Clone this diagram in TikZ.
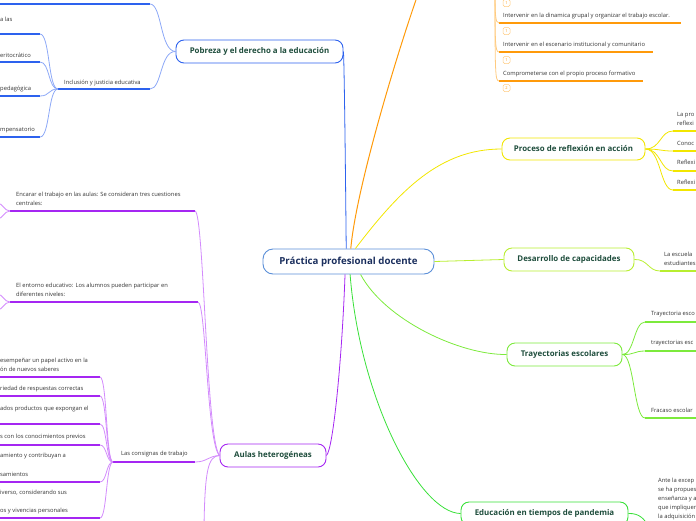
\documentclass[tikz,border=0pt]{standalone}
\usepackage{fontspec}
\setmainfont{Open Sans}
\usetikzlibrary{positioning}
\definecolor{ttl}{HTML}{1E4D3C}
\definecolor{ctr}{HTML}{1B2F5E}
\definecolor{ctrb}{HTML}{5B8FD8}
\definecolor{bl}{HTML}{2D62EE}
\definecolor{bll}{HTML}{8CA8F7}
\definecolor{pu}{HTML}{A526F2}
\definecolor{pul}{HTML}{D38BFC}
\definecolor{ye}{HTML}{F2E600}
\definecolor{li}{HTML}{B8EE30}
\definecolor{gr}{HTML}{7CEA3C}
\definecolor{gd}{HTML}{38E038}
\definecolor{or}{HTML}{FF9A0A}
\definecolor{orl}{HTML}{FFCB80}
\definecolor{txt}{HTML}{333333}

\begin{document}
\begin{tikzpicture}[x=1pt,y=-1pt,
    topic/.style={draw, line width=0.9pt, rounded corners=8pt, fill=white, text=ttl,
      font=\bfseries\fontsize{7.9}{9}\selectfont, minimum height=23pt, inner sep=0pt},
    item/.style={anchor=west, inner sep=0pt, text=txt, align=left,
      font=\fontsize{5.8}{9}\selectfont},
    rline/.style={line width=1.4pt},
    conn/.style={line width=0.8pt},
    badge/.style={draw=orl, line width=0.5pt, rounded corners=1.5pt, minimum size=7pt,
      inner sep=0pt, text=or, font=\fontsize{4}{4}\selectfont}]
    \useasboundingbox (0,0) rectangle (696,520);
    \clip (0,0) rectangle (696,520);

    % central and main topics
    \node[draw=ctrb, line width=0.9pt, rounded corners=10pt, fill=white, text=ctr,
      font=\bfseries\fontsize{9.7}{11}\selectfont, minimum width=171pt, minimum height=25pt,
      inner sep=0pt] (central) at (348.5,261.5) {Práctica profesional docente};
    \node[topic, draw=bl, minimum width=167pt] (pob) at (259.5,51.5) {Pobreza y el derecho a la educación};
    \node[topic, draw=pu, minimum width=106pt] (aulas) at (273,455.5) {Aulas heterogéneas};
    \node[topic, draw=ye, minimum width=143pt, minimum height=22pt] (proc) at (573.5,149) {Proceso de reflexión en acción};
    \node[topic, draw=li, minimum width=130pt] (des) at (569,259.5) {Desarrollo de capacidades};
    \node[topic, draw=gr, minimum width=115pt] (tray) at (564.5,354.5) {Trayectorias escolares};
    \node[topic, draw=gd, minimum width=167pt] (edu) at (544.5,513.5) {Educación en tiempos de pandemia};

    \coordinate (otop) at (417,-3);
    \draw[conn, bl] (central.100) .. controls (345,120) and (344,60) .. (pob.east);
    \draw[conn, or, line width=1pt] (central.80) .. controls (356,190) and (395,60) .. (otop);
    \draw[conn, ye] (central.62) .. controls (400,190) and (440,149) .. (proc.west);
    \draw[conn, li] (central.east) -- (des.west);
    \draw[conn, gr] (central.-47) .. controls (385,320) and (460,355) .. (tray.west);
    \draw[conn, gd] (central.-83) .. controls (360,400) and (420,513) .. (edu.west);
    \draw[conn, pu] (central.-105) .. controls (342,360) and (333,450) .. (aulas.east);

    % pobreza
    \coordinate (p1) at (150,4);
    \draw[rline, bl] (p1) -- ++(-160,0);
    \draw[conn, bll] (pob.west) .. controls (160,51) and (162,4) .. (p1);
    \node[item] (incl) at (64,83) {Inclusión y justicia educativa};
    \coordinate (i0) at (58,89);
    \coordinate (i1) at (150,89);
    \draw[rline, bl] (i0) -- (i1);
    \draw[conn, bll] (pob.west) .. controls (160,51) and (162,89) .. (i1);
    \foreach \y in {34,62,96,137} {
      \coordinate (c\y) at (40,\y);
      \draw[rline, bl] (c\y) -- ++(-50,0);
      \draw[conn, bll] (i0) .. controls (48,89) and (50,\y) .. (c\y);
    }
    \node[item] (ilas) at (0,19) {a las};
    \node[item] (imer) at (0,55) {eritocrático};
    \node[item] (iped) at (0,89) {pedagógica};
    \node[item] (icom) at (0,130) {mpensatorio};

    % aulas
    \node[item] (enc) at (16,199) {Encarar el trabajo en las aulas: Se consideran tres cuestiones\\centrales:};
    \coordinate (e0) at (10,211);
    \coordinate (e1) at (195,211);
    \draw[rline, pu] (e0) -- (e1);
    \draw[conn, pul] (aulas.west) .. controls (206,440) and (204,211) .. (e1);
    \coordinate (ea) at (-3,203);
    \coordinate (eb) at (-3,219);
    \draw[conn, pul] (e0) .. controls (4,211) and (3,203) .. (ea);
    \draw[conn, pul] (e0) .. controls (4,211) and (3,219) .. (eb);
    \node[item] (ent) at (16,290) {El entorno educativo: Los alumnos pueden participar en\\diferentes niveles:};
    \coordinate (n0) at (10,302);
    \coordinate (n1) at (198,302);
    \draw[rline, pu] (n0) -- (n1);
    \draw[conn, pul] (aulas.west) .. controls (207,445) and (206,302) .. (n1);
    \coordinate (na) at (-3,294);
    \coordinate (nb) at (-3,310);
    \draw[conn, pul] (n0) .. controls (4,302) and (3,294) .. (na);
    \draw[conn, pul] (n0) .. controls (4,302) and (3,310) .. (nb);
    \node[item] (cons) at (121,454) {Las consignas de trabajo};
    \coordinate (k0) at (113,462);
    \coordinate (k1) at (195,462);
    \draw[rline, pu] (k0) -- (k1);
    \draw[conn, pul] (k1) .. controls (207,462) and (208,456) .. (aulas.west);
    \foreach \y in {377,396,424,445,482,518} {
      \coordinate (k\y) at (100,\y);
      \draw[rline, pu] (k\y) -- ++(-110,0);
      \draw[conn, pul] (k0) .. controls (106,462) and (107,\y) .. (k\y);
    }
    \node[item] (kpap) at (0,364.5) {esempeñar un papel activo en la\\ón de nuevos saberes};
    \node[item] (kres) at (0,389) {riedad de respuestas correctas};
    \node[item] (kpro) at (0,409) {ados productos que expongan el};
    \node[item] (kpre) at (0,437) {s con los conocimientos previos};
    \node[item] (kcon) at (0,456) {amiento y contribuyan a};
    \node[item] (kpen) at (0,474) {samientos};
    \node[item] (kdiv) at (0,493) {iverso, considerando sus};
    \node[item] (kviv) at (0,511) {os y vivencias personales};
    \coordinate (abot) at (204,526);
    \draw[conn, pul] (aulas.west) .. controls (208,456) and (205,470) .. (abot);

    % proceso
    \foreach \y in {131,151,171,190} {
      \coordinate (y\y) at (673,\y);
      \draw[rline, ye] (y\y) -- ++(30,0);
      \draw[conn, ye] (proc.east) .. controls (661,149) and (660,\y) .. (y\y);
    }
    \node[item] (ypro) at (677,119) {La pro\\reflexi};
    \node[item] (ycon) at (677,143) {Conoc};
    \node[item] (yre1) at (677,162) {Reflexi};
    \node[item] (yre2) at (677,182) {Reflexi};

    % desarrollo
    \coordinate (d1) at (660,271);
    \draw[conn, li] (des.east) .. controls (648,259) and (648,271) .. (d1);
    \draw[rline, li] (d1) -- ++(40,0);
    \node[item] (desc) at (664,258.5) {La escuela\\estudiantes};

    % trayectorias
    \foreach \y in {322,351,418} {
      \coordinate (t\y) at (645,\y);
      \draw[rline, gr] (t\y) -- ++(55,0);
      \draw[conn, gr] (tray.east) .. controls (634,355) and (634,\y) .. (t\y);
    }
    \node[item] (tesc) at (651,314) {Trayectoria esco};
    \node[item] (tres) at (651,343) {trayectorias esc};
    \node[item] (tfra) at (651,410) {Fracaso escolar};

    % pandemia
    \coordinate (u1) at (648,526);
    \draw[conn, gd] (edu.east) .. controls (640,513) and (645,520) .. (u1);
    \node[item, anchor=north west] (uant) at (658,477.5) {Ante la excep\\se ha propues\\enseñanza y a\\que impliquen\\la adquisición};

    % orange branch
    \coordinate (ohub) at (495,-20);
    \foreach \y/\e in {23/681,52/653,81/643} {
      \coordinate (o\y) at (499,\y);
      \draw[rline, or] (o\y) -- (\e,\y);
      \draw[conn, orl] (ohub) .. controls (495,\y-8) and (495,\y) .. (o\y);
    }
    \node[item] (oint) at (503,16) {Intervenir en la dinamica grupal y organizar el trabajo escolar.};
    \node[item] (oesc) at (503,45) {Intervenir en el escenario institucional y comunitario};
    \node[item] (ocom) at (503,74) {Comprometerse con el propio proceso formativo};
    \node[badge] (b1) at (506.5,3) {1};
    \node[badge] (b2) at (506.5,31) {1};
    \node[badge] (b3) at (506.5,60) {1};
    \node[badge] (b4) at (506.5,88) {2};
\end{tikzpicture}
\end{document}
